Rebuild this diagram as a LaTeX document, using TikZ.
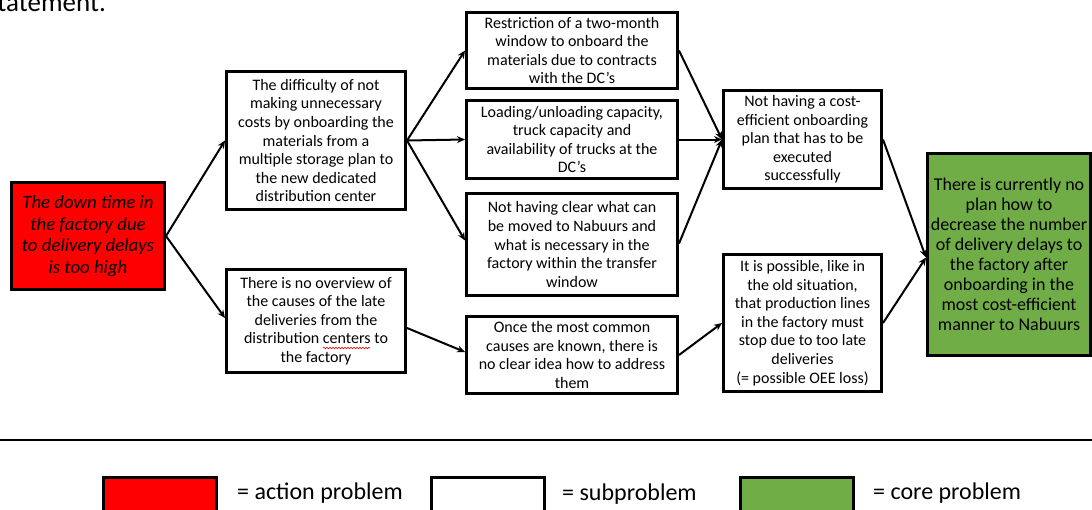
\documentclass[tikz,border=0pt]{standalone}
\usepackage{fontspec}
\setmainfont{Carlito}
\usetikzlibrary{arrows.meta,decorations.pathmorphing}
\definecolor{actred}{HTML}{FF0000}
\definecolor{coregreen}{HTML}{70AD47}
\begin{document}
\begin{tikzpicture}[x=1pt,y=-1pt,
  box/.style={draw=black,line width=3pt,fill=white,align=center,inner sep=1pt,
    font=\fontsize{16}{18.6}\selectfont},
  actbox/.style={box,fill=actred,font=\fontsize{18.8}{21.8}\selectfont\itshape},
  corebox/.style={box,fill=coregreen,font=\fontsize{18}{20}\selectfont},
  arr/.style={line width=2pt,-{Stealth[length=8pt,width=7pt]}},
  legbox/.style={draw=black,line width=3pt,minimum width=113pt,minimum height=60pt},
  legtext/.style={font=\fontsize{24}{28}\selectfont,anchor=west,inner sep=0pt}
]
\useasboundingbox (0,0) rectangle (1092,509);
\node[anchor=base west,inner sep=0pt,font=\fontsize{27}{30}\selectfont] (stm) at (-13,11) {statement.};

\node[actbox,minimum width=153pt,minimum height=107pt] (red) at (88,236)
  {The down time in\\the factory due\\to delivery delays\\is too high};
\node[box,minimum width=179pt,minimum height=138pt] (A) at (316,140.5)
  {The difficulty of not\\making unnecessary\\costs by onboarding the\\materials from a\\multiple storage plan to\\the new dedicated\\distribution center};
\node[box,minimum width=179pt,minimum height=103pt] (B) at (316,321)
  {There is no overview of\\the causes of the late\\deliveries from the\\distribution centers to\\the factory};
\node[box,minimum width=211pt,minimum height=76pt] (M1) at (572,50.5)
  {Restriction of a two-month\\window to onboard the\\materials due to contracts\\with the DC’s};
\node[box,minimum width=211pt,minimum height=78pt] (M2) at (572,139.5)
  {Loading/unloading capacity,\\truck capacity and\\availability of trucks at the\\DC’s};
\node[box,minimum width=211pt,minimum height=102pt] (M3) at (572,244.5)
  {Not having clear what can\\be moved to Nabuurs and\\what is necessary in the\\factory within the transfer\\window};
\node[box,minimum width=211pt,minimum height=77pt] (M4) at (572,355)
  {Once the most common\\causes are known, there is\\no clear idea how to address\\them};
\node[box,minimum width=158pt,minimum height=98pt] (R1) at (802.5,139.5)
  {Not having a cost-\\efficient onboarding\\plan that has to be\\executed\\successfully};
\node[box,minimum width=158pt,minimum height=137pt] (R2) at (802.5,323)
  {It is possible, like in\\the old situation,\\that production lines\\in the factory must\\stop due to too late\\deliveries\\(= possible OEE loss)};
\node[corebox,minimum width=163pt,minimum height=202pt] (G) at (1009,254.5)
  {There is currently no\\plan how to\\decrease the number\\of delivery delays to\\the factory after\\onboarding in the\\most cost-efficient\\manner to Nabuurs};

\draw[red,line width=0.6pt,decorate,decoration={snake,amplitude=0.8pt,segment length=3pt}]
  (323,348) -- (370,348);

\draw[arr] (red.east) -- (A.west);
\draw[arr] (red.east) -- ([yshift=3pt]B.west);
\draw[arr] (A.east) -- (M1.west);
\draw[arr] (A.east) -- (M2.west);
\draw[arr] (A.east) -- ([yshift=4pt]M3.west);
\draw[arr] ([yshift=-7pt]B.east) -- ([yshift=3pt]M4.west);
\draw[arr] (M1.east) -- (R1.west);
\draw[arr] (M2.east) -- (R1.west);
\draw[arr] ([yshift=1pt]M3.east) -- (R1.west);
\draw[arr] (M4.east) -- (R2.west);
\draw[arr] (R1.east) -- ([yshift=-3pt]G.west);
\draw[arr] (R2.east) -- ([yshift=-3pt]G.west);

\coordinate (hl) at (0,440);
\coordinate (hr) at (1092,440);
\draw[line width=2pt] (hl) -- (hr);

\node[legbox,fill=actred,anchor=north west] (L1) at (101.5,475.5) {};
\node[legtext] (T1) at (237,493) {= action problem};
\node[legbox,fill=white,anchor=north west] (L2) at (429.5,475.5) {};
\node[legtext] (T2) at (562,494) {= subproblem};
\node[legbox,fill=coregreen,anchor=north west] (L3) at (738.5,475.5) {};
\node[legtext] (T3) at (873,493) {= core problem};
\end{tikzpicture}
\end{document}
